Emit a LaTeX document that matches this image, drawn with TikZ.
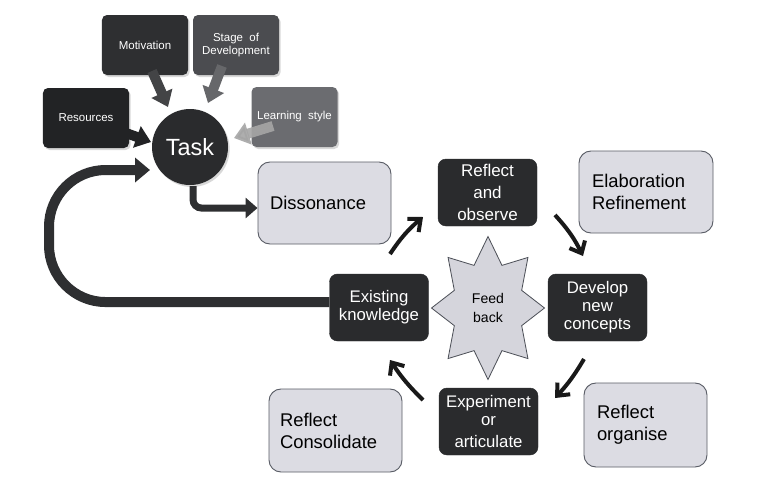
\documentclass[tikz,border=0pt]{standalone}
\usepackage{fontspec}
\setmainfont{Liberation Sans}
\usetikzlibrary{arrows.meta,shapes.geometric,shadows}
\definecolor{motc}{HTML}{2E2F31}
\definecolor{stagec}{HTML}{4B4C50}
\definecolor{resc}{HTML}{222325}
\definecolor{learnc}{HTML}{6B6C70}
\definecolor{boxdark}{HTML}{2A2B2D}
\definecolor{boxlight}{HTML}{DCDCE3}
\definecolor{boxedge}{HTML}{5A5D66}
\definecolor{starfill}{HTML}{D5D5DC}
\definecolor{staredge}{HTML}{4D5058}
\definecolor{loopc}{HTML}{2E2F31}
\begin{document}
\begin{tikzpicture}[x=0.03cm,y=-0.03cm,
  topbox/.style={rounded corners=0.15cm, text=white, align=center,
    font=\fontsize{9.8}{11.5}\selectfont, minimum width=2.58cm, minimum height=1.8cm,
    inner sep=0pt, drop shadow={opacity=0.3, shadow xshift=0.05cm, shadow yshift=-0.06cm}},
  darkbox/.style={fill=boxdark, draw=boxdark, rounded corners=0.24cm, text=white,
    align=center, minimum width=2.97cm, minimum height=2.01cm, inner sep=0pt,
    font=\fontsize{14.3}{15.4}\selectfont},
  lightbox/.style={fill=boxlight, draw=boxedge, line width=0.8pt, rounded corners=0.36cm,
    align=left, minimum height=2.46cm, inner ysep=0pt,
    font=\fontsize{15.7}{18.7}\selectfont},
  blk/.style={line width=0.3cm, -{Triangle[length=0.45cm,width=0.66cm]}},
  cyc/.style={line width=0.12cm, black!90, -{Straight Barb[length=0.3cm,width=0.52cm]}},
]
\useasboundingbox (0,0) rectangle (762,492);
\fill[white] (0,0) rectangle (762,492);

% top boxes
\node[topbox, fill=motc] (mot) at (145,45) {Motivation};
\node[topbox, fill=stagec] (stage) at (236,45) {Stage \ of\\Development};
\node[topbox, fill=resc] (res) at (86,118) {Resources};
\node[topbox, fill=learnc] (learn) at (294.5,117) {Learning \ style};

% task
\node[circle, fill=boxdark, text=white, minimum size=2.28cm, inner sep=0pt,
  font=\fontsize{20}{24}\selectfont,
  drop shadow={opacity=0.3, shadow xshift=0.05cm, shadow yshift=-0.06cm}] (task) at (190,147) {Task};

% block arrows into task
\coordinate (m1) at (152,71); \coordinate (m2) at (168,107);
\coordinate (s1) at (222,66); \coordinate (s2) at (208,103);
\coordinate (r1) at (112,128); \coordinate (r2) at (151,142);
\coordinate (l1) at (273,126); \coordinate (l2) at (234,138);
\draw[blk, draw=motc!90!white, fill=motc!90!white] (m1) -- (m2);
\draw[blk, draw=stagec!85!white, fill=stagec!85!white] (s1) -- (s2);
\draw[blk, draw=resc, fill=resc] (r1) -- (r2);
\draw[blk, draw=gray!70, fill=gray!70, opacity=0.9] (l1) -- (l2);

% light boxes
\node[lightbox, text width=3.27cm, inner xsep=0.36cm] (diss) at (324.5,203) {Dissonance};
\node[lightbox, text width=3.24cm, inner xsep=0.39cm] (elab) at (646,192) {Elaboration\\Refinement};
\node[lightbox, text width=3.33cm, inner xsep=0.33cm, minimum height=2.49cm] (cons) at (335.5,430.5) {Reflect\\Consolidate};
\node[lightbox, text width=2.91cm, inner xsep=0.39cm, minimum height=2.52cm] (org) at (645.5,425) {Reflect\\organise};

% dark boxes
\node[darkbox, font=\fontsize{14.5}{18.7}\selectfont] (refl) at (487.5,192.5) {Reflect\\and\\observe};
\node[darkbox] (exist) at (379,307.5) {Existing\\knowledge};
\node[darkbox] (dev) at (597.5,307.5) {Develop\\new\\concepts};
\node[darkbox] (exp) at (488.5,421.5) {Experiment\\or\\[3pt]articulate};

% star
\node[star, star points=8, star point ratio=1.55, draw=staredge, fill=starfill, line width=0.7pt,
  minimum size=4.29cm, inner sep=0pt, xscale=0.79, transform shape] (star) at (488,308) {};
\node[font=\fontsize{12}{17}\selectfont, align=center] (fb) at (488,308) {Feed\\back};

% task -> dissonance
\coordinate (t1) at (193,186);
\draw[line width=0.21cm, loopc, rounded corners=0.25cm, -{Triangle[length=0.36cm,width=0.6cm]}]
  (t1) |- ([yshift=-0.15cm]diss.west);

% loop back to task
\coordinate (lp) at (150,170);
\draw[line width=0.3cm, loopc, rounded corners=1.7cm, -{Triangle[length=0.45cm,width=0.72cm]}]
  ([yshift=0.16cm]exist.west) -- (49,302) -- (49,170) -- (lp);

% cycle arrows
\coordinate (a1s) at (390,254); \coordinate (a1e) at (423,217);
\coordinate (a2s) at (555,215); \coordinate (a2e) at (583,256);
\coordinate (a3s) at (584,359); \coordinate (a3e) at (555,398);
\coordinate (a4s) at (423,400); \coordinate (a4e) at (390,360);
\draw[cyc] (a1s) to[bend left=8] (a1e);
\draw[cyc] (a2s) to[bend left=8] (a2e);
\draw[cyc] (a3s) to[bend left=6] (a3e);
\draw[cyc] (a4s) to[bend left=6] (a4e);
\end{tikzpicture}
\end{document}
